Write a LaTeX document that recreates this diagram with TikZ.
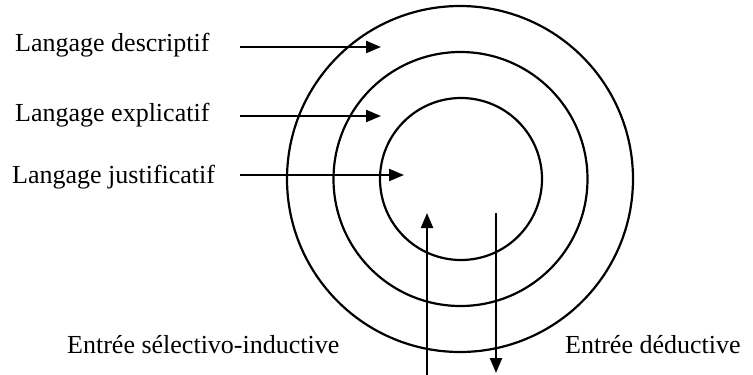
\documentclass[tikz,border=0pt]{standalone}
\usepackage{fontspec}
\setmainfont{Liberation Serif}
\usetikzlibrary{arrows.meta}
\begin{document}
\begin{tikzpicture}[x=1pt,y=-1pt,
  ring/.style={draw,circle,line width=2.2pt,inner sep=0pt},
  lbl/.style={anchor=base west,inner sep=0pt,font=\fontsize{26}{30}\selectfont},
  arr/.style={line width=2.2pt,-{Triangle[length=15pt,width=12pt]}}]
\useasboundingbox (0,0) rectangle (753,375);
\node[ring,minimum size=346pt] (outer) at (460,179) {};
\node[ring,minimum size=254pt] (middle) at (460.5,179) {};
\node[ring,minimum size=162pt] (inner) at (461,179) {};
\node[lbl] (desc) at (15,51) {Langage descriptif};
\node[lbl] (expl) at (15,121) {Langage explicatif};
\node[lbl] (just) at (12,183) {Langage justificatif};
\node[lbl] (sel) at (67,353) {Entrée sélectivo-inductive};
\node[lbl] (ded) at (565,353) {Entrée déductive};
\coordinate (d0) at (240,47); \coordinate (d1) at (381,47);
\coordinate (e0) at (240,116); \coordinate (e1) at (381,116);
\coordinate (j0) at (240,175); \coordinate (j1) at (404,175);
\coordinate (u0) at (427,375); \coordinate (u1) at (427,213);
\coordinate (v0) at (496,213); \coordinate (v1) at (496,373);
\draw[arr] (d0) -- (d1);
\draw[arr] (e0) -- (e1);
\draw[arr] (j0) -- (j1);
\draw[arr] (u0) -- (u1);
\draw[arr] (v0) -- (v1);
\end{tikzpicture}
\end{document}
